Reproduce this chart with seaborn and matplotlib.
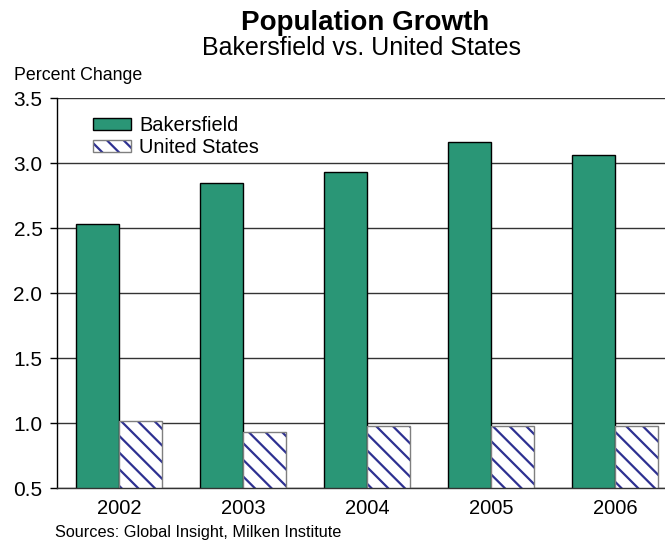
import pandas as pd
import matplotlib
matplotlib.use('Agg')
import matplotlib.pyplot as plt
from matplotlib.patches import Rectangle
import seaborn as sns

# data
years = ['2002', '2003', '2004', '2005', '2006']
bakersfield = [2.53, 2.85, 2.93, 3.16, 3.06]
united_states = [1.02, 0.93, 0.98, 0.98, 0.98]
series_names = ['Bakersfield', 'United States']

df = pd.DataFrame({'Year': years * 2,
                   'Series': [series_names[0]] * 5 + [series_names[1]] * 5,
                   'Value': bakersfield + united_states})

sns.set_style('white')
plt.rcParams['font.family'] = ['Liberation Sans', 'DejaVu Sans']
plt.rcParams['text.color'] = 'black'
plt.rcParams['xtick.color'] = 'black'
plt.rcParams['ytick.color'] = 'black'
plt.rcParams['hatch.linewidth'] = 1.6

green = '#2A9676'
navy = '#2E3192'
outline = '#7f7f7f'

fig = plt.figure(figsize=(6.65, 5.41), dpi=100)
ax = fig.add_axes([57 / 665, (541 - 488.3) / 541, 620 / 665, 390 / 541])

sns.barplot(data=df, x='Year', y='Value', hue='Series', palette=[green, 'white'],
            width=0.7, saturation=1, ax=ax, legend=False)

# styling of the two series
for p in ax.containers[0]:
    p.set_edgecolor('black')
    p.set_linewidth(1.0)
for p in ax.containers[1]:
    p.set_facecolor('white')
    p.set_hatch('\\\\')
    p.set_edgecolor(navy)   # hatch takes the edge colour
    p.set_linewidth(0)
    # gray outline on top of the hatched bar
    ax.add_patch(Rectangle(p.get_xy(), p.get_width(), p.get_height(), fill=False,
                           edgecolor=outline, linewidth=1.0, zorder=p.get_zorder() + 0.1))

ax.set_ylim(0.5, 3.5)
ax.set_xlim(-0.5, 4.5)
ax.set_yticks([0.5, 1.0, 1.5, 2.0, 2.5, 3.0, 3.5])
ax.set_yticklabels(['0.5', '1.0', '1.5', '2.0', '2.5', '3.0', '3.5'], fontsize=15)
ax.set_xticks(range(5))
ax.set_xticklabels(years, fontsize=14.5)
ax.set_xticks([0.5, 1.5, 2.5, 3.5], minor=True)
ax.tick_params(axis='x', which='major', length=0, pad=8)
ax.tick_params(axis='x', which='minor', length=5, width=1, direction='out', color='#333333')
ax.tick_params(axis='y', length=5, width=1, direction='out', color='black', pad=5.5, left=True)
ax.set_xlabel('')
ax.set_ylabel('')

ax.yaxis.grid(True, color='#333333', linewidth=1.0)
ax.set_axisbelow(True)
for side in ['top', 'right']:
    ax.spines[side].set_visible(False)
ax.spines['left'].set_color('black')
ax.spines['bottom'].set_color('#333333')
ax.spines['left'].set_linewidth(1.0)
ax.spines['bottom'].set_linewidth(1.0)

us_hatch = Rectangle((0, 0), 1, 1, facecolor='white', edgecolor=navy, hatch='\\\\', linewidth=0)
us_edge = Rectangle((0, 0), 1, 1, fill=False, edgecolor=outline, linewidth=1.0)
handles = [ax.containers[0][0], (us_hatch, us_edge)]
ax.legend(handles, series_names, loc='upper left', bbox_to_anchor=(0.045, 0.975),
          frameon=False, fontsize=14.4, handlelength=1.9, handleheight=0.6,
          handletextpad=0.4, labelspacing=0.15, borderaxespad=0)

fig.text(365 / 665, 1 - 30 / 541, 'Population Growth', ha='center', va='baseline',
         fontsize=20, fontweight='bold')
fig.text(362 / 665, 1 - 55 / 541, 'Bakersfield vs. United States', ha='center',
         va='baseline', fontsize=18)
fig.text(14 / 665, 1 - 80 / 541, 'Percent Change', ha='left', va='baseline', fontsize=12.8)
fig.text(55 / 665, 1 - 537 / 541, 'Sources: Global Insight, Milken Institute',
         ha='left', va='baseline', fontsize=11.7)

fig.savefig('out.png', dpi=100)
